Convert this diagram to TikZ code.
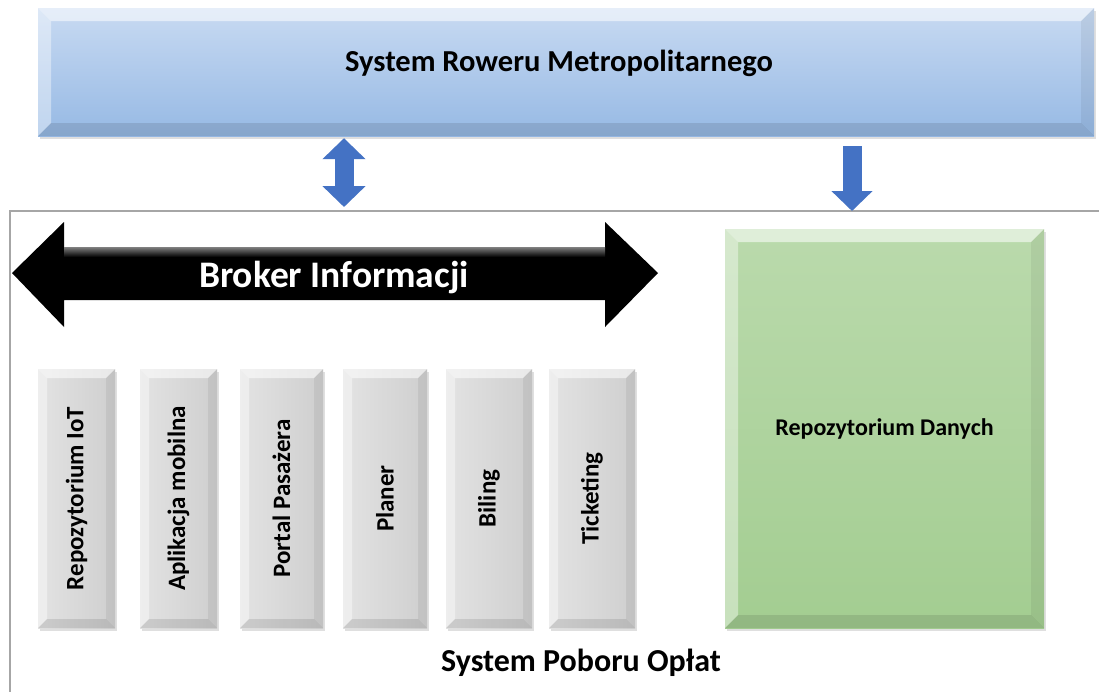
\documentclass[tikz,border=0pt]{standalone}
\usepackage{fontspec}
\setmainfont{Carlito}
\usetikzlibrary{arrows.meta,shadows}

\definecolor{rmtop}{RGB}{200,218,242}
\definecolor{rmbottom}{RGB}{150,185,228}
\definecolor{repotop}{RGB}{186,218,172}
\definecolor{repobottom}{RGB}{163,205,145}
\definecolor{arrowblue}{RGB}{68,114,196}
\definecolor{framegray}{RGB}{166,166,166}

\begin{document}
\begin{tikzpicture}[x=1pt,y=-1pt,
  bevelled/.style={path picture={
    \fill[white,opacity=.55] (path picture bounding box.north west) -- (path picture bounding box.north east)
      -- ([shift={(-#1,-#1)}]path picture bounding box.north east) -- ([shift={(#1,-#1)}]path picture bounding box.north west) -- cycle;
    \fill[white,opacity=.4] (path picture bounding box.north west) -- ([shift={(#1,-#1)}]path picture bounding box.north west)
      -- ([shift={(#1,#1)}]path picture bounding box.south west) -- (path picture bounding box.south west) -- cycle;
    \fill[black,opacity=.06] (path picture bounding box.north east) -- ([shift={(-#1,-#1)}]path picture bounding box.north east)
      -- ([shift={(-#1,#1)}]path picture bounding box.south east) -- (path picture bounding box.south east) -- cycle;
    \fill[black,opacity=.1] (path picture bounding box.south west) -- ([shift={(#1,#1)}]path picture bounding box.south west)
      -- ([shift={(-#1,#1)}]path picture bounding box.south east) -- (path picture bounding box.south east) -- cycle;}},
  panel/.style={draw=none, inner sep=0pt, drop shadow={opacity=.25,shadow xshift=2pt,shadow yshift=-3pt}},
  module/.style={panel, left color=black!11, right color=black!19, bevelled=9pt,
    minimum height=259pt, font=\bfseries\fontsize{25}{29}\selectfont},
  blockarrow/.style={arrowblue, line width=19pt},
  outerframe/.style={framegray, line width=2pt}]

\useasboundingbox[fill=white] (0,0) rectangle (1099,691);

% system roweru
\node (sysrm) at (566,72) [panel, minimum width=1056pt, minimum height=128pt,
  top color=rmtop, bottom color=rmbottom, bevelled=13pt] {};
\node (sysrmtxt) at (559,63) [font=\bfseries\fontsize{30.5}{34}\selectfont] {System Roweru Metropolitarnego};

% ramka systemu poboru oplat
\draw[outerframe] (10,692) |- (1100,211);

\coordinate (brokerlink) at (344,207);
\coordinate (repolink) at (852,211);
\draw[blockarrow, {Triangle[width=42pt,length=21pt]}-{Triangle[width=42pt,length=21pt]}, shorten <=2pt]
  (sysrm.south -| brokerlink) -- (brokerlink);
\draw[blockarrow, -{Triangle[width=40pt,length=20pt]}, shorten <=10pt]
  (sysrm.south -| repolink) -- (repolink);

% broker
\fill[black] (12,273) -- (64,222) -- (64,247) -- (605,247) -- (605,222) -- (658,273)
  -- (605,327) -- (605,300) -- (64,300) -- (64,327) -- cycle;
\fill[top color=black!50, bottom color=black] (64,247) rectangle (605,257);
\node (broker) at (334,278) [text=white, font=\bfseries\fontsize{37.5}{41}\selectfont] {Broker Informacji};

% moduly
\foreach \n/\x/\w/\t in {m1/76.5/77/Repozytorium IoT, m2/178.5/77/Aplikacja mobilna,
  m3/281.5/83/Portal Pasażera, m4/385/84/Planer, m5/489/86/Biling, m6/592/86/Ticketing}{
\node (\n) at (\x,498.5) [module, minimum width=\w pt] {\rotatebox{90}{\t}};}

% repozytorium danych
\node (repo) at (884.5,428.5) [panel, minimum width=319pt, minimum height=399pt,
  top color=repotop, bottom color=repobottom, bevelled=13pt,
  font=\bfseries\fontsize{24}{28}\selectfont] {Repozytorium Danych};

\node (spo) at (581,663) [font=\bfseries\fontsize{32}{36}\selectfont] {System Poboru Opłat};
\end{tikzpicture}
\end{document}
